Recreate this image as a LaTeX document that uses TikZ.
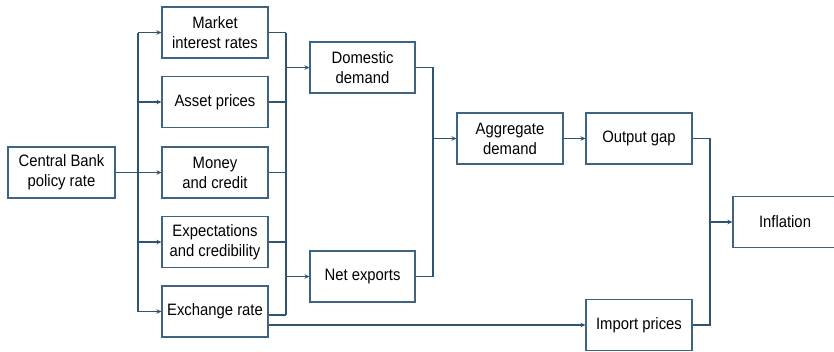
\documentclass[tikz,border=0pt]{standalone}
\usepackage{fontspec}
\setmainfont{Liberation Sans}[FakeStretch=0.9]
\usetikzlibrary{arrows.meta,calc}
\definecolor{linkblue}{RGB}{46,84,114}
\definecolor{boxblue}{RGB}{62,100,130}
\begin{document}
\begin{tikzpicture}[x=1pt,y=-1pt,
  stage/.style={draw=boxblue,line width=1.1pt,fill=white,minimum height=51pt,
    inner sep=1pt,align=center,
    font=\fontsize{16.5}{20}\selectfont},
  link/.style={draw=linkblue,line width=1.1pt},
  arr/.style={link,-{Stealth[length=5pt,width=4.5pt]}}]
\useasboundingbox (0,0) rectangle (834,351);
% policy rate and the five channels
\node[stage,minimum width=107pt] (cb) at (61.5,172.5) {Central Bank\\policy rate};
\node[stage,minimum width=106pt] (mir) at (215,32.5) {Market\\interest rates};
\node[stage,minimum width=106pt] (ap) at (215,102) {Asset prices};
\node[stage,minimum width=106pt] (mc) at (215,172.5) {Money\\and credit};
\node[stage,minimum width=106pt] (ec) at (215,242) {Expectations\\and credibility};
\node[stage,minimum width=106pt] (er) at (215,311.5) {Exchange rate};
% demand side
\node[stage,minimum width=105pt] (dd) at (362.5,67.5) {Domestic\\demand};
\node[stage,minimum width=105pt] (nx) at (362.5,276.5) {Net exports};
\node[stage,minimum width=106pt] (ad) at (510,138.5) {Aggregate\\demand};
\node[stage,minimum width=106pt] (og) at (639,138.5) {Output gap};
\node[stage,minimum width=106pt] (ip) at (639,325) {Import prices};
\node[stage,minimum width=104pt] (inf) at (785,222) {Inflation};
% bus lines
\coordinate (busL) at (138,172.5);
\coordinate (busR) at (286,172.5);
\coordinate (busD) at (433,172.5);
\coordinate (busI) at (710,222);
\coordinate (erout) at ([yshift=-3.5pt]er.east);
% policy rate fans out to the channels
\draw[arr] (cb.east) -- (mc.west);
\draw[link] (busL |- mir.west) -- (busL |- er.west);
\foreach \n in {mir,ap,ec,er}
  \draw[arr] (busL |- \n.west) -- (\n.west);
% channels feed domestic demand and net exports
\foreach \n in {mir,ap,mc,ec}
  \draw[link] (\n.east) -- (busR |- \n.east);
\draw[link] (erout) -- (busR |- erout);
\draw[link] (busR |- mir.east) -- (busR |- erout);
\draw[arr] (busR |- dd.west) -- (dd.west);
\draw[arr] (busR |- nx.west) -- (nx.west);
% aggregate demand
\draw[link] (dd.east) -- (busD |- dd.east) -- (busD |- nx.east) -- (nx.east);
\draw[arr] (busD |- ad.west) -- (ad.west);
\draw[arr] (ad.east) -- (og.west);
% exchange rate to import prices
\draw[arr] (er.east |- ip.west) -- (ip.west);
% inflation
\draw[link] (og.east) -- (busI |- og.east) -- (busI |- ip.east) -- (ip.east);
\draw[arr] (busI) -- (inf.west);
\end{tikzpicture}
\end{document}
